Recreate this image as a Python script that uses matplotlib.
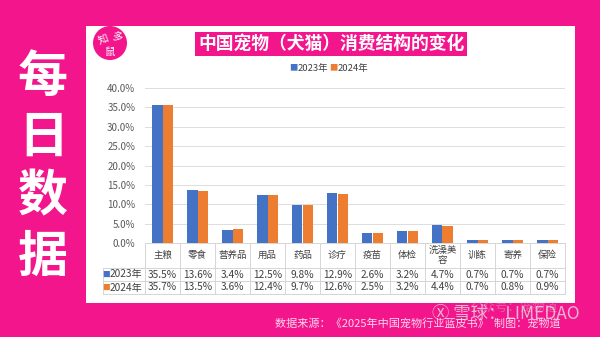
import numpy as np
import matplotlib.pyplot as plt
from matplotlib.patches import Rectangle, Ellipse
from matplotlib.transforms import blended_transform_factory

plt.rcParams['font.family'] = ['Noto Sans CJK SC', 'DejaVu Sans']

categories = ['主粮', '零食', '营养品', '用品', '药品', '诊疗', '疫苗', '体检', '洗澡美\n容', '训练', '寄养', '保险']
share_2023 = [35.5, 13.6, 3.4, 12.5, 9.8, 12.9, 2.6, 3.2, 4.7, 0.7, 0.7, 0.7]
share_2024 = [35.7, 13.5, 3.6, 12.4, 9.7, 12.6, 2.5, 3.2, 4.4, 0.7, 0.8, 0.9]
series_names = ['2023年', '2024年']
yticks = [0, 5, 10, 15, 20, 25, 30, 35, 40]

pink = '#F3158C'
blue = '#4472C4'
orange = '#ED7D31'
grid_c = '#DDDDDD'
txt_c = '#404040'

W, H = 600, 337
fig = plt.figure(figsize=(6, 3.37), dpi=100)
fig.patch.set_facecolor(pink)

# white panel
fig.patches.append(Rectangle((86 / W, 1 - 303 / H), (575 - 86) / W, (303 - 26) / H,
                             transform=fig.transFigure, facecolor='white', edgecolor='none', zorder=0))

# big vertical heading on the left
for i, ch in enumerate('每日数据'):
    fig.text(43 / W, 1 - (77 + i * 60) / H, ch, color='white', fontsize=36, fontweight='bold',
             ha='center', va='center')

# logo
fig.patches.append(Ellipse((110 / W, 1 - 43 / H), 34 / W, 34 / H, transform=fig.transFigure,
                           facecolor=pink, edgecolor='none', zorder=1))
fig.text(103 / W, 1 - 39 / H, '知', color='white', fontsize=7.5, ha='center', va='center', rotation=20)
fig.text(117 / W, 1 - 37 / H, '多', color='white', fontsize=7.5, ha='center', va='center', rotation=-10)
fig.text(110 / W, 1 - 52 / H, '鼠', color='white', fontsize=7.5, ha='center', va='center')

# title
fig.text(331 / W, 1 - 44 / H, '中国宠物（犬猫）消费结构的变化', color='white', fontsize=12.8,
         fontweight='bold', ha='center', va='center',
         bbox=dict(facecolor=pink, edgecolor='none', boxstyle='square,pad=0.15'))

# legend
fig.text(293 / W, 1 - 68 / H, '■', color=blue, fontsize=6, ha='center', va='center')
fig.text(298 / W, 1 - 68 / H, '2023年', color=txt_c, fontsize=6.8, ha='left', va='center')
fig.text(333 / W, 1 - 68 / H, '■', color=orange, fontsize=6, ha='center', va='center')
fig.text(338 / W, 1 - 68 / H, '2024年', color=txt_c, fontsize=6.8, ha='left', va='center')

# chart
ax = fig.add_axes([145 / W, 1 - 243 / H, 420 / W, (243 - 88) / H])
ax.set_zorder(3)
ax.set_facecolor('none')
x = np.arange(len(categories))
bw = 0.31
ax.bar(x - bw / 2, share_2023, bw, color=blue, zorder=3)
ax.bar(x + bw / 2, share_2024, bw, color=orange, zorder=3)
ax.set_xlim(-0.5, len(categories) - 0.5)
ax.set_ylim(0, 40)
ax.set_yticks(yticks)
ax.set_yticklabels([f'{v:.1f}%' for v in yticks], fontsize=7, color='#595959')
ax.set_xticks([])
ax.tick_params(axis='y', length=0, pad=7)
ax.grid(axis='y', color=grid_c, linewidth=0.7, zorder=0)
for s in ax.spines.values():
    s.set_visible(False)

# data table below the plot
tr = blended_transform_factory(ax.transData, fig.transFigure)
row_y = [243, 268, 281, 294]
fy = [1 - v / H for v in row_y]
label_left = -0.5 - 1.2
line_kw = dict(color='#D5D5D5', linewidth=0.7, transform=tr, clip_on=False)
ax.plot([-0.5, len(categories) - 0.5], [fy[0], fy[0]], **line_kw)
for yy in fy[1:]:
    ax.plot([label_left, len(categories) - 0.5], [yy, yy], **line_kw)
for b in np.arange(-0.5, len(categories), 1.0):
    ax.plot([b, b], [fy[0], fy[3]], **line_kw)
ax.plot([label_left, label_left], [fy[1], fy[3]], **line_kw)

for i, c in enumerate(categories):
    ax.text(i, (fy[0] + fy[1]) / 2, c, transform=tr, ha='center', va='center',
            fontsize=6.8, color=txt_c, linespacing=1.1)
    ax.text(i, (fy[1] + fy[2]) / 2, f'{share_2023[i]:.1f}%', transform=tr, ha='center',
            va='center', fontsize=7.3, color=txt_c)
    ax.text(i, (fy[2] + fy[3]) / 2, f'{share_2024[i]:.1f}%', transform=tr, ha='center',
            va='center', fontsize=7.3, color=txt_c)

for k, (name, col) in enumerate(zip(series_names, [blue, orange])):
    yy = (fy[1 + k] + fy[2 + k]) / 2
    ax.text(label_left + 0.1, yy, '■', transform=tr, ha='center', va='center', fontsize=5.5, color=col)
    ax.text(label_left + 0.2, yy, name, transform=tr, ha='left', va='center', fontsize=7.3, color=txt_c)

# footer
fig.text(275 / W, 1 - 323 / H, '数据来源：《2025年中国宠物行业蓝皮书》  制图：宠物道',
         color='#FFD6EC', fontsize=8, ha='left', va='center')
fig.text(470 / W, 1 - 307 / H, '公众号：宠物道', color='#E0E0E0', fontsize=9, ha='left',
         va='center', alpha=0.35)
fig.text(432 / W, 1 - 314 / H, 'Ⓧ 雪球：LIMEDAO', color='#E8E8E8', fontsize=12.5, ha='left',
         va='center', alpha=0.75)

fig.savefig('out.png', dpi=100, facecolor=fig.get_facecolor())
